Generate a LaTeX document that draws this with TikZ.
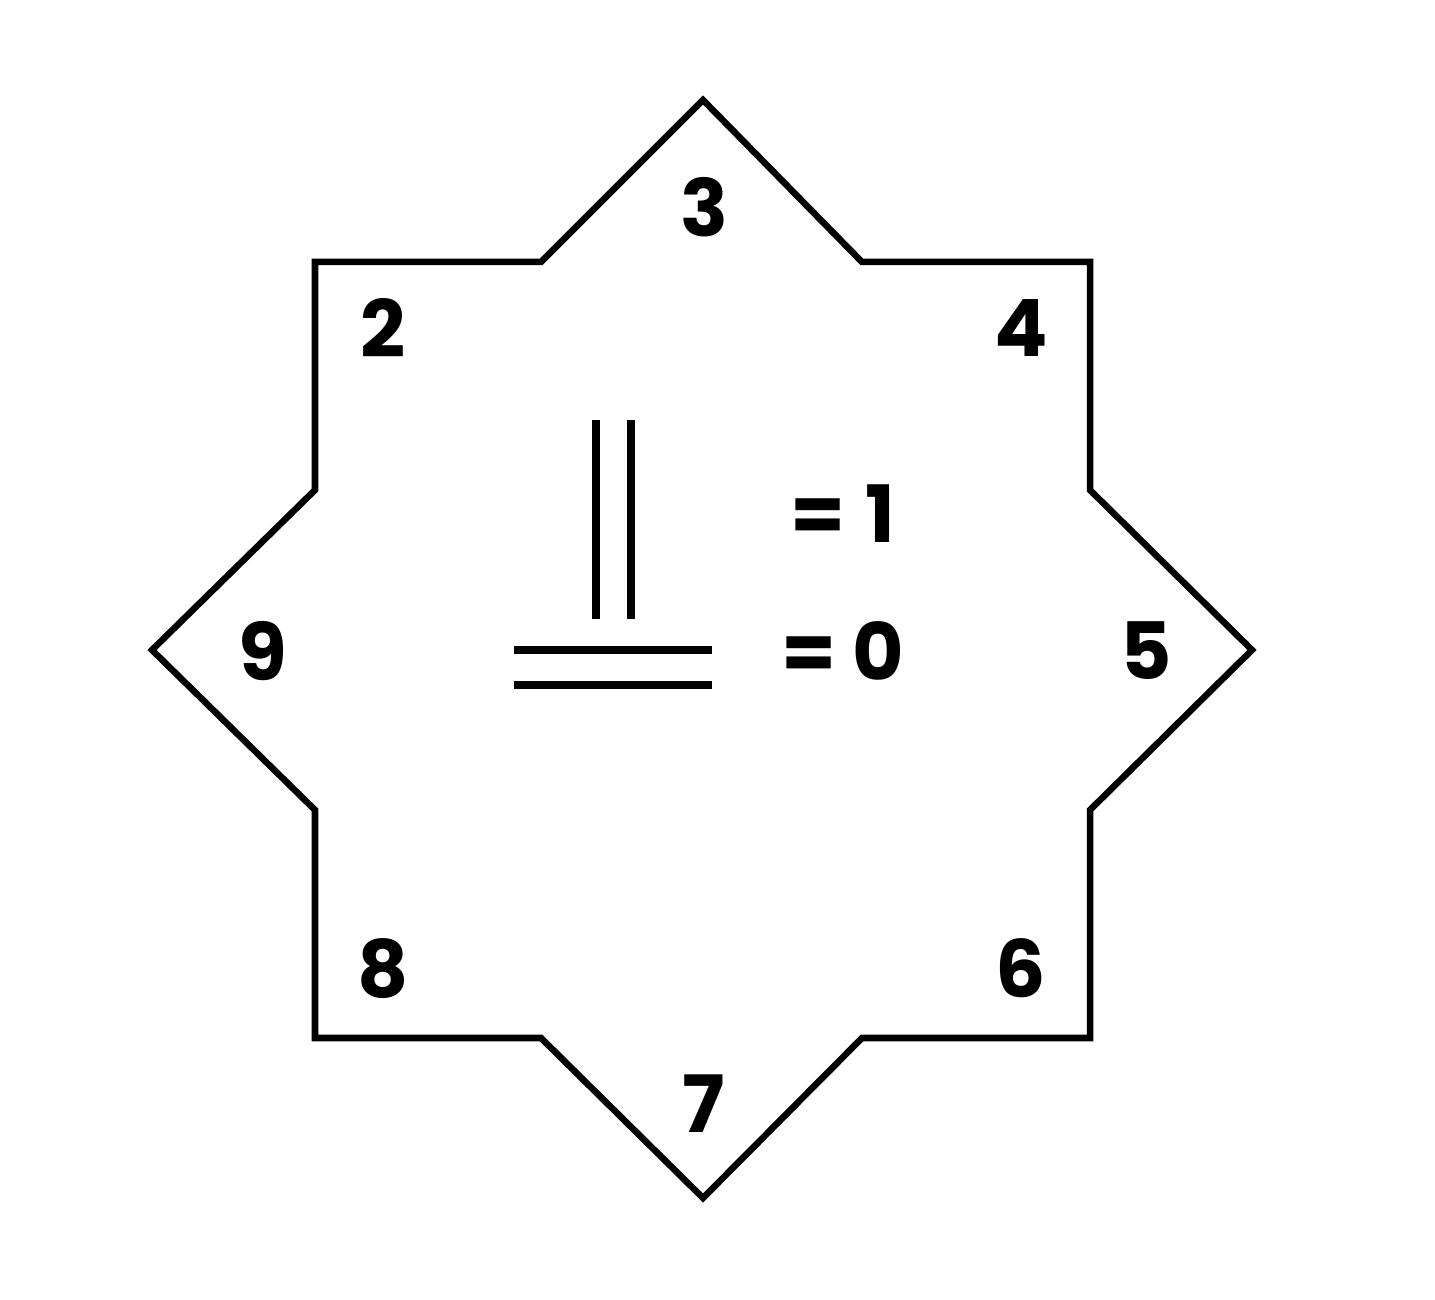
\documentclass[tikz,border=0pt]{standalone}
\usepackage{fontspec}
\setmainfont{Poppins}
\begin{document}
\begin{tikzpicture}[x=0.01cm,y=-0.01cm,
  num/.style={font=\fontsize{22.5pt}{25pt}\selectfont\bfseries, inner sep=0pt, anchor=center},
  bar/.style={line width=0.075cm}]
\useasboundingbox (0,0) rectangle (1435,1300);
\coordinate (p1) at (703,100);
\coordinate (p2) at (862,262);
\coordinate (p3) at (1090,262);
\coordinate (p4) at (1090,490);
\coordinate (p5) at (1252,650);
\coordinate (p6) at (1090,810);
\coordinate (p7) at (1090,1038);
\coordinate (p8) at (862,1038);
\coordinate (p9) at (703,1198);
\coordinate (p10) at (541,1038);
\coordinate (p11) at (315,1038);
\coordinate (p12) at (315,810);
\coordinate (p13) at (152,650);
\coordinate (p14) at (315,490);
\coordinate (p15) at (315,262);
\coordinate (p16) at (541,262);
\draw[line width=0.065cm, line join=miter] (p1)--(p2)--(p3)--(p4)--(p5)--(p6)--(p7)--(p8)--(p9)--(p10)--(p11)--(p12)--(p13)--(p14)--(p15)--(p16)--cycle;
\node[num] (n3) at (704,207) {3};
\node[num] (n2) at (383,328) {2};
\node[num] (n4) at (1021,328) {4};
\node[num] (n9) at (263,651) {9};
\node[num] (n5) at (1146,651) {5};
\node[num] (n8) at (383,969) {8};
\node[num] (n6) at (1021,968) {6};
\node[num] (n7) at (704,1104) {7};
\node[num] (e1) at (843,514) {=\hspace{0.25em}1};
\node[num] (e0) at (843,651) {=\hspace{0.2em}0};
\coordinate (v1a) at (596,420); \coordinate (v1b) at (596,619);
\coordinate (v2a) at (631,420); \coordinate (v2b) at (631,619);
\coordinate (h1a) at (514,650); \coordinate (h1b) at (712,650);
\coordinate (h2a) at (514,685); \coordinate (h2b) at (712,685);
\draw[bar] (v1a)--(v1b);
\draw[bar] (v2a)--(v2b);
\draw[bar] (h1a)--(h1b);
\draw[bar] (h2a)--(h2b);
\end{tikzpicture}
\end{document}
